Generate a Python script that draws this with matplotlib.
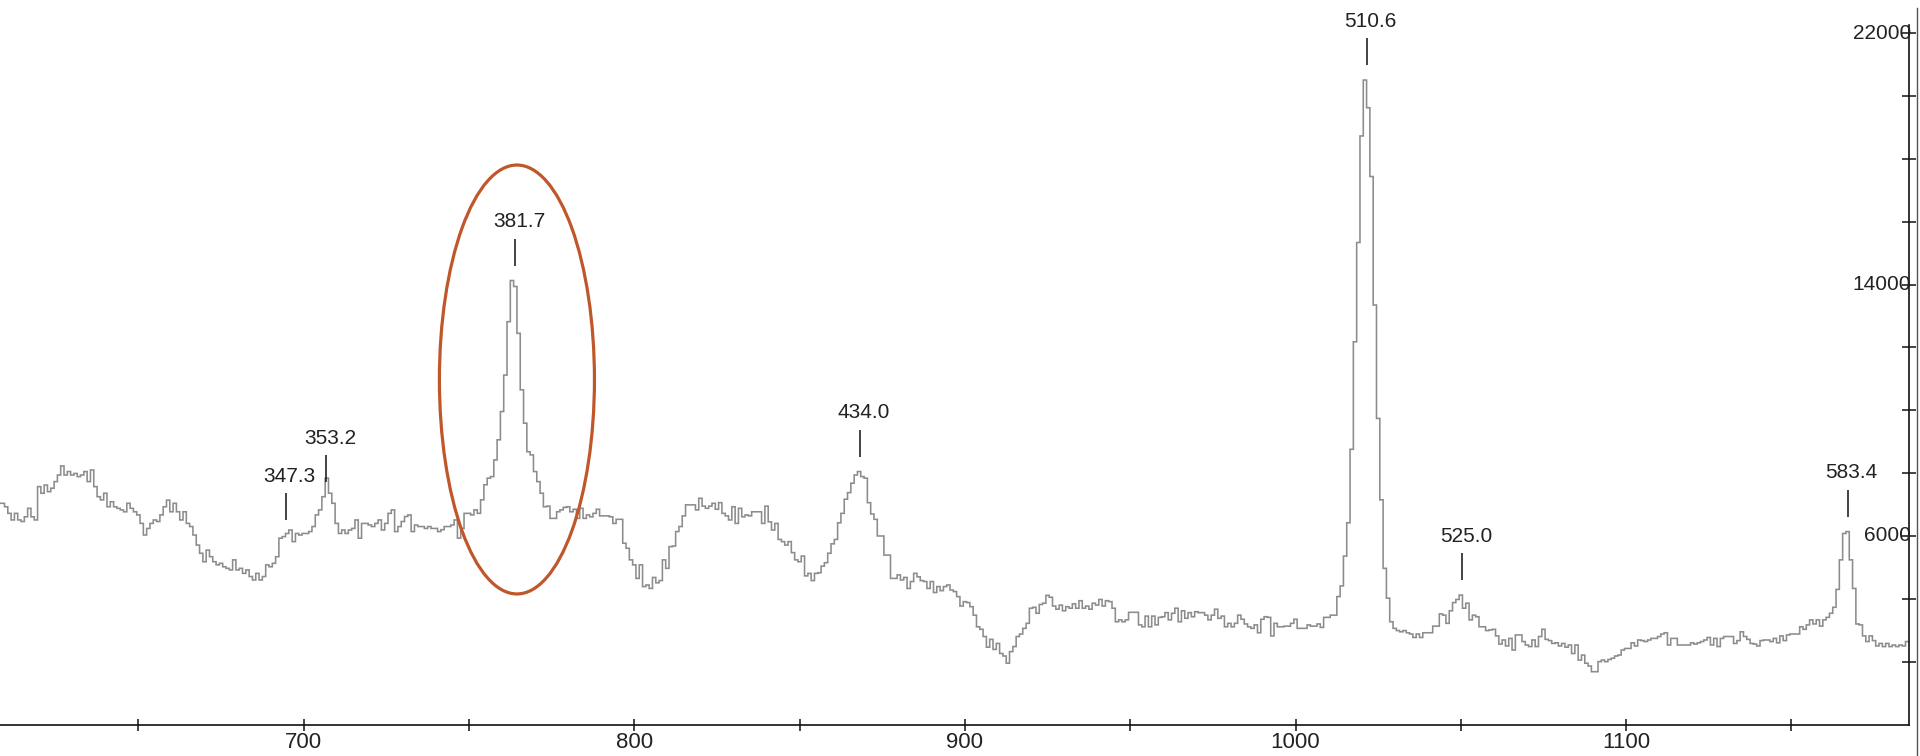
import numpy as np
import matplotlib.pyplot as plt
from matplotlib.patches import Ellipse
from matplotlib.lines import Line2D

plt.rcParams['font.family'] = ['Liberation Sans', 'DejaVu Sans']

# spectrum counts per channel, first bin is channel 608
first_channel = 608
counts = [
    7040, 7040, 6930, 6720, 6510, 6720, 6510, 6460, 6610, 6880,
    6610, 6510, 7570, 7360, 7620, 7410, 7520, 7730, 7940, 8230,
    7940, 8050, 7940, 7990, 7890, 7940, 8050, 7730, 8100, 7570,
    7250, 7150, 7360, 6930, 7090, 6930, 6880, 6830, 6770, 7040,
    6880, 6770, 6670, 6400, 6030, 6240, 6400, 6510, 6460, 6670,
    6930, 7140, 6770, 7040, 6770, 6510, 6770, 6400, 6300, 6030,
    5710, 5450, 5180, 5550, 5340, 5180, 5080, 5130, 5020, 4970,
    4920, 5240, 4920, 4970, 4810, 4920, 4710, 4600, 4810, 4600,
    4710, 5080, 5020, 5130, 5340, 5930, 5980, 6080, 6190, 5820,
    6080, 6030, 6080, 6080, 6140, 6300, 6670, 6830, 7250, 7840,
    7360, 7040, 6400, 6080, 6190, 6080, 6190, 6240, 6510, 5930,
    6400, 6400, 6350, 6300, 6400, 6510, 6190, 6400, 6720, 6830,
    6140, 6300, 6460, 6620, 6670, 6140, 6350, 6300, 6300, 6240,
    6300, 6240, 6240, 6140, 6200, 6300, 6300, 6350, 6510, 5930,
    6240, 6720, 6720, 6670, 6830, 6720, 7150, 7630, 7840, 7890,
    8420, 9060, 9960, 11120,
    # 762
    12820, 14130, 13940, 12450, 10650, 9590, 8680, 8580, 8050, 7730,
    7360, 6930, 6950, 6560, 6560, 6770, 6830, 6910, 6930, 6770,
    6850, 6560, 6880, 6560, 6670, 6610, 6720, 6850, 6640, 6640,
    6640, 6610, 6400, 6530, 6530, 5770, 5610, 5240, 5080, 4650,
    5080, 4390, 4440, 4330, 4680, 4510, 4580, 5240, 4970, 5660,
    5680, 6140, 6300, 6640, 6990, 6990, 6990, 6830, 7200, 6950,
    6880, 6950, 7040, 6850, 7060, 6720, 6640, 6510, 6930, 6400,
    6880, 6610, 6670, 6640, 6770, 6770, 6770, 6400, 6950, 6450,
    6190, 6400, 5890, 5820, 5710, 5820, 5470, 5240, 5180, 5360,
    4730, 4810, 4580, 4810, 4830, 5040, 5150, 5450, 5750, 5890,
    6420, 6720, 7170, 7380, 7680, 7940, 8050, 7890, 7840, 7060,
    6700, 6530, 6000, 6000, 5390, 5390, 4650, 4650, 4760, 4600,
    4680, 4330, 4550, 4810, 4700, 4580, 4550, 4330, 4550, 4200,
    4390, 4260, 4390, 4440, 4280, 4230, 4070, 3770, 3910, 3880,
    3750, 3480, 3110, 3030, 2800, 2460, 2710, 2390, 2580, 2260,
    2180, 1950, 2320, 2480, 2800,
    # 917
    2880, 3060, 3220, 3700, 3730, 3540, 3820, 3860, 4110, 4050,
    3770, 3670, 3800, 3620, 3750, 3700, 3840, 3700, 3940, 3700,
    3770, 3670, 3860, 3800, 3980, 3770, 3940, 3910, 3700, 3270,
    3330, 3270, 3330, 3570, 3570, 3570, 3170, 3110, 3450, 3110,
    3450, 3170, 3410, 3430, 3560, 3330, 3540, 3700, 3270, 3620,
    3380, 3560, 3430, 3590, 3560, 3560, 3480, 3330, 3480, 3670,
    3380, 3450, 3110, 3220, 3110, 3220, 3480, 3350, 3200, 3110,
    3060, 3170, 2920, 3350, 3430, 3410, 2820, 3220, 3110, 3110,
    3130, 3130, 3220, 3350, 3060, 3060, 3060, 3170, 3130, 3130,
    3200, 3090, 3410, 3410, 3480, 3480, 4070, 4410, 5360, 6420,
    8760,
    # 1018
    12180, 15340, 18730, 20510, 19630, 17440, 13350,
    9740, 7150, 4970, 4020, 3270, 3060, 2990, 2950, 2990, 2920,
    2880, 2770, 2880, 2770, 2920, 2920, 2920, 3130, 3130, 3520,
    3480, 3220, 3620, 3880, 3980, 4120, 3700, 3860, 3330, 3480,
    3430, 3110, 3110, 2990, 3010, 3030, 2820, 2560, 2690, 2500,
    2740, 2370, 2850,
    # 1068
    2850, 2640, 2530, 2480, 2690, 2480, 2800, 3030, 2710, 2670,
    2580, 2600, 2500, 2580, 2460, 2530, 2260, 2530, 2050, 2210,
    1950, 1860, 1680, 1680, 2000, 2050, 2000, 2070, 2110, 2180,
    2210, 2370, 2420, 2420, 2600, 2500, 2690, 2670, 2640, 2690,
    2740, 2740, 2800, 2880, 2920, 2530, 2740, 2740, 2530, 2530,
    2530, 2530, 2600, 2560, 2600, 2640, 2690, 2770, 2530, 2740,
    2480, 2740, 2800, 2800, 2800, 2580, 2670, 2950, 2800, 2710,
    2580, 2560, 2500, 2670, 2690, 2690, 2640, 2740, 2600, 2820,
    2670, 2850, 2880, 2880, 2880, 3110, 3030, 3170, 3330, 3200,
    3330, 3130, 3330, 3410, 3540, 3730, 4300, 5240, 6080, 6140,
    5240, 4330, 3200, 3170, 2820, 2640, 2820, 2670, 2500, 2580,
    2480, 2580, 2480, 2530, 2480, 2530, 2500, 2640,
]

peak_energies = ['347.3', '353.2', '381.7', '434.0', '510.6', '525.0', '583.4']
peak_channels = [694.6, 706.7, 763.9, 868.3, 1021.5, 1050.3, 1167.0]
label_drop = [5, 19, 0, 0, 0, 0, 0]  # px, how much lower than the usual spot

x_ticks = list(range(650, 1151, 50))
x_labels = ['' if t % 100 else str(t) for t in x_ticks]
y_ticks = list(range(2000, 22001, 2000))
y_labelled = [6000, 14000, 22000]

W, H = 1920, 756
fig = plt.figure(figsize=(W / 100, H / 100), dpi=100)
ax = fig.add_axes([0, 31.5 / H, 1909 / W, 699.5 / H])

edges = np.arange(len(counts) + 1) + first_channel - 0.5
ax.stairs(counts, edges, baseline=None, color='#8c8c8c', lw=1.15)

ax.set_xlim(608.14, 1185.57)
ax.set_ylim(0, 22262)

for side in ['left', 'top']:
    ax.spines[side].set_visible(False)
for side in ['bottom', 'right']:
    ax.spines[side].set_linewidth(1.2)
    ax.spines[side].set_color('#111111')

ax.set_xticks(x_ticks)
ax.set_xticklabels(x_labels, fontfamily=['Liberation Sans Narrow', 'Liberation Sans', 'DejaVu Sans'],
                   fontsize=16)
ax.tick_params(axis='x', direction='inout', length=8, width=1.1, color='#111111', pad=1.5,
               labelcolor='#222222')

ax.yaxis.tick_right()
ax.set_yticks(y_ticks)
ax.tick_params(axis='y', direction='inout', length=9.5, width=1.1, color='#111111',
               labelright=False, labelleft=False)
for v in y_labelled:
    ax.annotate(str(v), xy=(1, v), xycoords=ax.get_yaxis_transform(),
                xytext=(2, 0), textcoords='offset pixels',
                ha='right', va='center', fontsize=15, color='#222222')

# peak markers: tick 15..42 px above local max, energy text above it
ppc = ax.transData.transform((0, 1000))[1] - ax.transData.transform((0, 0))[1]
ppc = ppc / 1000.0
for label, ch, drop in zip(peak_energies, peak_channels, label_drop):
    i = int(round(ch)) - first_channel
    top = max(counts[i - 1:i + 2])
    ax.vlines(ch, top + (15 - drop) / ppc, top + (42 - drop) / ppc, colors='#111111', lw=1.1)
    ax.annotate(label, xy=(ch, top), xytext=(4, 59 - drop), textcoords='offset pixels',
                ha='center', va='center', fontsize=15, color='#222222')

# highlight around 381.7
ax.add_patch(Ellipse((764.5, 10980), 46.9, 13650, fill=False, ec='#c0572b', lw=2.3))

# window frame line at the right
fig.add_artist(Line2D([1916.5 / W] * 2, [0, 1 - 8 / H], color='#555555', lw=1.0))

fig.savefig('out.png', dpi=100)
